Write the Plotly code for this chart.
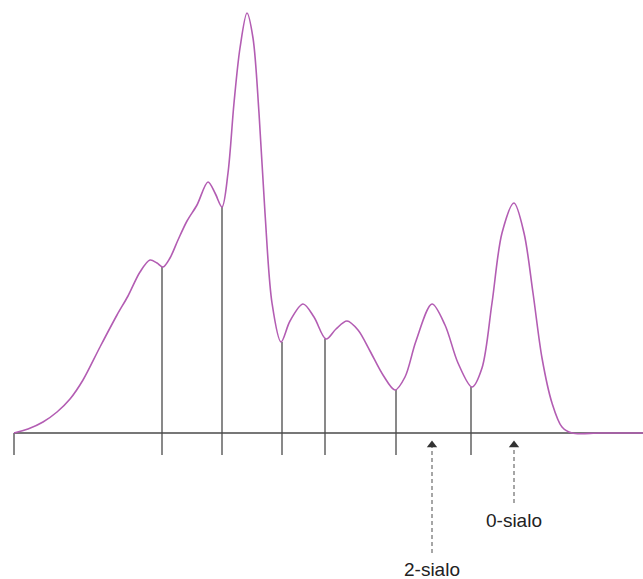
import plotly.graph_objects as go

# Chromatogram trace (retention position, signal)
trace_x = [14, 28, 43, 57, 70, 83, 100, 117, 128, 140, 150, 157, 163, 170, 178, 187, 197, 208, 215, 222,
           228, 234, 240, 247, 253, 259, 265, 272, 281, 290, 303, 314, 326, 336, 347, 358, 370, 383, 395,
           405, 416, 432, 445, 458, 472, 482, 492, 502, 514, 524, 533, 542, 552, 562, 572, 600, 643]
trace_y = [0, 4, 11, 21, 34, 53, 86, 118, 137, 161, 173, 170, 166, 175, 193, 212, 228, 251, 240, 226,
           260, 330, 385, 420, 395, 320, 220, 130, 91, 112, 129, 116, 94, 104, 112, 103, 82, 58, 43,
           56, 92, 129, 108, 70, 46, 65, 130, 200, 230, 200, 140, 75, 30, 6, 0, 0, 0]

# Valley drop lines (positions and valley heights)
drop_x = [14, 162, 222, 282, 325, 396, 471]
drop_y = [0, 166, 226, 91, 94, 43, 46]

# Labelled peaks
peak_labels = ["2-sialo", "0-sialo"]
peak_x = [432, 514]
label_y = [-136, -87]
arrow_start_y = [-120, -70]

purple = "#b35db3"
dark = "#4a4a4a"

fig = go.Figure()

# baseline
fig.add_trace(go.Scatter(x=[14, 643], y=[0, 0], mode="lines",
                         line=dict(color=dark, width=1.3), hoverinfo="skip"))

# drop lines
dx, dy = [], []
for xv, yv in zip(drop_x, drop_y):
    dx += [xv, xv, None]
    dy += [yv, -22, None]
fig.add_trace(go.Scatter(x=dx, y=dy, mode="lines",
                         line=dict(color=dark, width=1.3), hoverinfo="skip"))

# curve
fig.add_trace(go.Scatter(x=trace_x, y=trace_y, mode="lines",
                         line=dict(color=purple, width=1.6, shape="spline", smoothing=0.9),
                         hoverinfo="skip"))

# dashed arrows and labels
for lbl, px, ly, sy in zip(peak_labels, peak_x, label_y, arrow_start_y):
    fig.add_trace(go.Scatter(x=[px, px], y=[sy, -14], mode="lines",
                             line=dict(color="#777777", width=1.3, dash="4px,3px"), hoverinfo="skip"))
    fig.add_trace(go.Scatter(x=[px], y=[-12], mode="markers",
                             marker=dict(symbol="triangle-up", size=9, color="#333333"),
                             hoverinfo="skip"))
    fig.add_annotation(x=px, y=ly, text=lbl, showarrow=False, borderpad=0,
                       font=dict(family="Liberation Sans, Arial", size=19, color="#222222"))

fig.update_layout(
    width=643, height=579,
    margin=dict(l=0, r=0, t=0, b=0),
    paper_bgcolor="white", plot_bgcolor="white",
    showlegend=False,
    xaxis=dict(range=[0, 643], visible=False),
    yaxis=dict(range=[-146, 433], visible=False),
)

fig.write_html("out.html", config={"displayModeBar": False},
               post_script="document.body.style.margin='0';document.body.style.overflow='hidden';")
